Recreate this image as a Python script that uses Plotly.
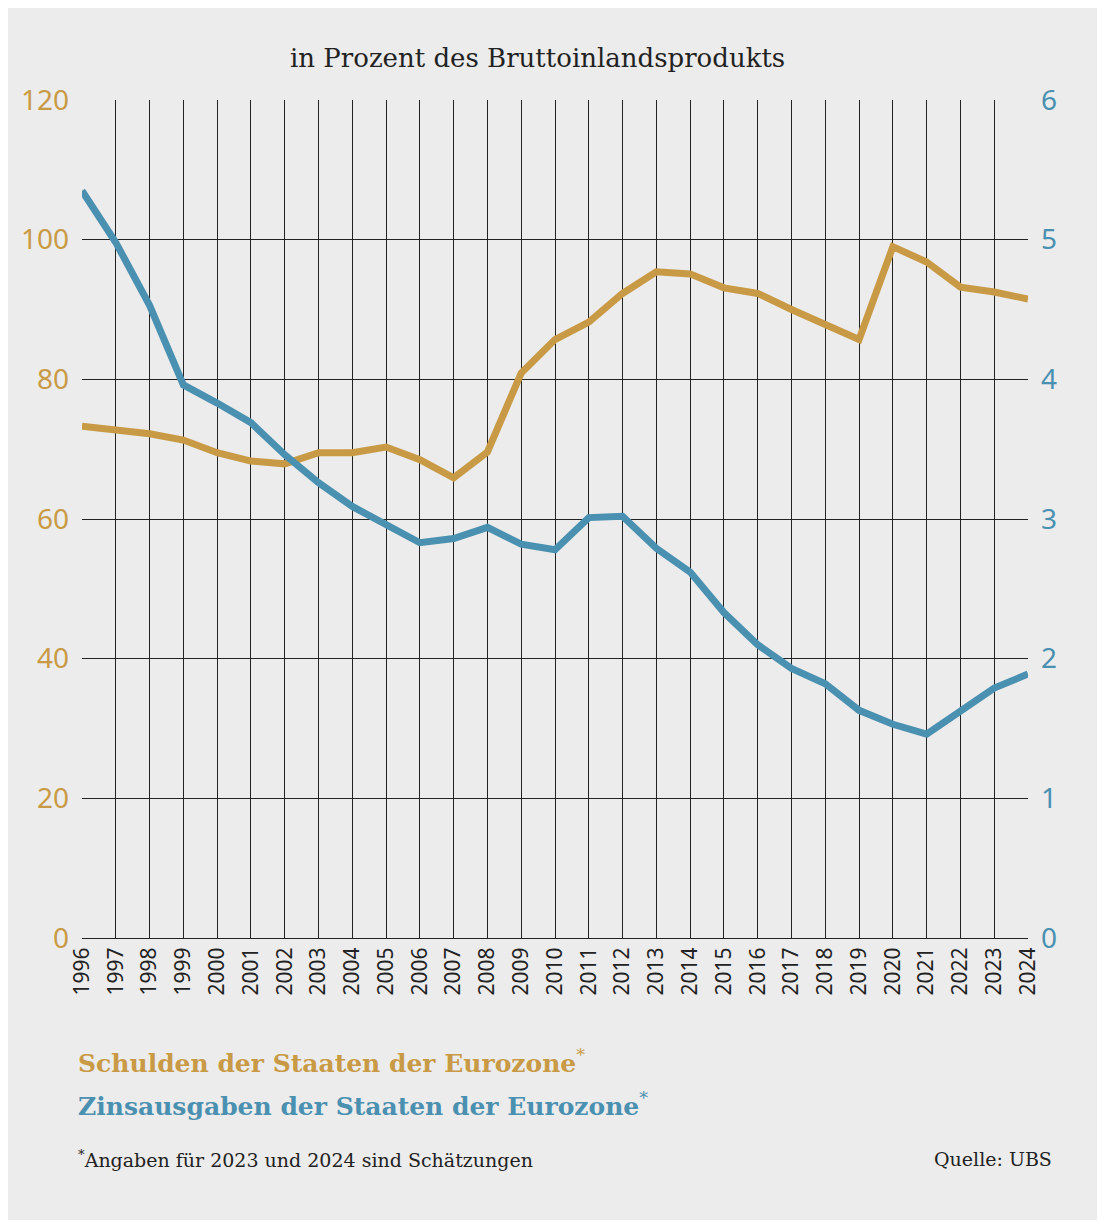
import plotly.graph_objects as go

years = list(range(1996, 2025))
schulden = [73.3, 72.8, 72.2, 71.3, 69.5, 68.3, 67.9, 69.5, 69.5, 70.3, 68.5, 65.9, 69.6, 80.9,
            85.7, 88.2, 92.3, 95.4, 95.1, 93.1, 92.3, 90.0, 87.8, 85.7, 99.0, 96.8, 93.2, 92.5, 91.5]
zinsen = [5.35, 4.98, 4.53, 3.96, 3.83, 3.69, 3.46, 3.26, 3.09, 2.96, 2.83, 2.86, 2.94, 2.82,
          2.78, 3.01, 3.02, 2.79, 2.62, 2.33, 2.10, 1.93, 1.82, 1.63, 1.53, 1.46, 1.62, 1.79, 1.89]

orange = "#c99a45"
blue = "#4a90b0"
bg = "#ececec"

# the page adds an 8px body margin, so shift everything up/left by that
off = 8
W, H = 1105 - 2 * off, 1228 - 2 * off
L, R, T, B = 82 - off, 1105 - 1028 - off, 100 - off, 1228 - 938 - off

fig = go.Figure()
fig.add_trace(go.Scatter(x=years, y=schulden, mode="lines", line=dict(color=orange, width=7),
                         showlegend=False))
fig.add_trace(go.Scatter(x=years, y=zinsen, mode="lines", line=dict(color=blue, width=7),
                         yaxis="y2", showlegend=False))

fig.update_layout(
    width=W, height=H,
    paper_bgcolor=bg, plot_bgcolor=bg,
    margin=dict(l=L, r=R, t=T, b=B),
    font=dict(family="Noto Sans", color="#222"),
    xaxis=dict(range=[1996, 2024], tickvals=years, ticktext=[str(y) for y in years],
               tickangle=-90, showgrid=True, gridcolor="#222", gridwidth=1,
               showline=True, linecolor="#222", zeroline=False,
               tickfont=dict(size=21, color="#222"), ticks=""),
    yaxis=dict(range=[0, 120], tickvals=[0, 20, 40, 60, 80, 100, 120], showgrid=True,
               gridcolor="#222", gridwidth=1, zeroline=False, ticks="",
               tickfont=dict(size=28, color=orange), ticklabelstandoff=12),
    yaxis2=dict(range=[0, 6], tickvals=[0, 1, 2, 3, 4, 5, 6], overlaying="y", side="right",
                showgrid=False, zeroline=False, ticks="",
                tickfont=dict(size=28, color=blue), ticklabelstandoff=12),
)

items = [
    ("in Prozent des Bruttoinlandsprodukts", 537, 58, "#222", 26, "center"),
    ("<b>Schulden der Staaten der Eurozone</b><sup>*</sup>", 76, 1061, orange, 25, "left"),
    ("<b>Zinsausgaben der Staaten der Eurozone</b><sup>*</sup>", 76, 1104, blue, 25, "left"),
    ("<sup>*</sup>Angaben für 2023 und 2024 sind Schätzungen", 76, 1159, "#222", 19, "left"),
    ("Quelle: UBS", 1054, 1159, "#222", 19, "right"),
]
for text, px, py, color, size, anchor in items:
    fig.add_annotation(text=text, x=(px - 82) / (1028 - 82), y=(938 - py) / (938 - 100),
                       xref="paper", yref="paper", showarrow=False, xanchor=anchor, yanchor="middle",
                       font=dict(family="DejaVu Serif", size=size, color=color))

fig.write_html("out.html")
